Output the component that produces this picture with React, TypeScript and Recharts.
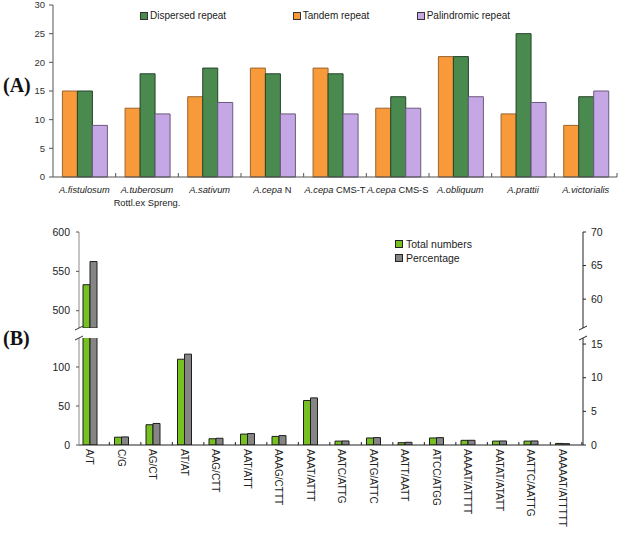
import React from 'react';
import { BarChart, Bar, XAxis, YAxis, Legend } from 'recharts';

// ---------- Panel A data ----------
const species = ['A.fistulosum', 'A.tuberosum', 'A.sativum', 'A.cepa', 'A.cepa', 'A.cepa', 'A.obliquum', 'A.prattii', 'A.victorialis'];
const speciesSuffix = ['', '', '', 'N', 'CMS-T', 'CMS-S', '', '', ''];
const speciesSecondLine = ['', 'Rottl.ex Spreng.', '', '', '', '', '', '', ''];
const tandemRepeat = [15, 12, 14, 19, 19, 12, 21, 11, 9];
const dispersedRepeat = [15, 18, 19, 18, 18, 14, 21, 25, 14];
const palindromicRepeat = [9, 11, 13, 11, 11, 12, 14, 13, 15];
const repeatTicks = [0, 5, 10, 15, 20, 25, 30];

// ---------- Panel B data ----------
const motifs = ['A/T', 'C/G', 'AG/CT', 'AT/AT', 'AAG/CTT', 'AAT/ATT', 'AAAG/CTTT', 'AAAT/ATTT', 'AATC/ATTG', 'AATG/ATTC', 'AATT/AATT', 'ATCC/ATGG', 'AAAAT/ATTTT', 'AATAT/ATATT', 'AATTC/AATTG', 'AAAAAT/ATTTTT'];
const totalNumbers = [533, 10, 26, 110, 8, 14, 11, 57, 5, 9, 3, 9, 6, 5, 5, 2];
const percentage = [65.6, 1.2, 3.2, 13.5, 1.0, 1.7, 1.4, 7.0, 0.6, 1.1, 0.4, 1.1, 0.7, 0.6, 0.6, 0.2];
const upperLeftTicks = [500, 550, 600];
const upperRightTicks = [60, 65, 70];
const lowerLeftTicks = [0, 50, 100];
const lowerRightTicks = [0, 5, 10, 15];

const UPPER_LEFT_DOMAIN = [478, 600];
const UPPER_RIGHT_DOMAIN = [55.7, 70];
const LOWER_LEFT_DOMAIN = [0, 137.2];
const LOWER_RIGHT_DOMAIN = [0, 15.9];

const FONT = '"Liberation Sans", Arial, Helvetica, sans-serif';

const dataA = species.map((s, i) => ({
  name: s + (speciesSuffix[i] ? ' ' + speciesSuffix[i] : '') + '#' + i,
  tandem: tandemRepeat[i],
  dispersed: dispersedRepeat[i],
  palindromic: palindromicRepeat[i],
}));

const dataB = motifs.map((m, i) => ({ motif: m, total: totalNumbers[i], pct: percentage[i] }));
const dataBUpper = motifs.map((m, i) => ({
  motif: m,
  total: totalNumbers[i] > UPPER_LEFT_DOMAIN[0] ? totalNumbers[i] : null,
  pct: percentage[i] > UPPER_RIGHT_DOMAIN[0] ? percentage[i] : null,
}));

const BAND_A = (617 - 53) / 9;

const SpeciesTick = (props: any) => {
  const { x, y, index } = props;
  const bx = x + BAND_A / 2;
  return (
    <g>
      <line x1={bx} x2={bx} y1={y} y2={y - 4} stroke="#555" strokeWidth={1} />
      <text x={x} y={y + 16} textAnchor="middle" fontSize={9.3} fill="#222" fontFamily={FONT}>
        <tspan fontStyle="italic">{species[index]}</tspan>
        {speciesSuffix[index] ? <tspan>{'\u00a0' + speciesSuffix[index]}</tspan> : null}
      </text>
      {speciesSecondLine[index] ? (
        <text x={x} y={y + 29} textAnchor="middle" fontSize={9.3} fill="#222" fontFamily={FONT}>
          {speciesSecondLine[index]}
        </text>
      ) : null}
    </g>
  );
};

const MotifTick = (props: any) => {
  const { x, y, payload } = props;
  const bx = x + 19.6;
  return (
    <g>
      <line x1={bx} x2={bx} y1={y} y2={y - 3} stroke="#222" strokeWidth={1} />
      <text
        x={x}
        y={y + 4}
        transform={`rotate(90, ${x}, ${y + 4})`}
        textAnchor="start"
        dominantBaseline="central"
        fontSize={10}
        fill="#222"
        fontFamily={FONT}
      >
        {payload.value}
      </text>
    </g>
  );
};

const legendOrderA = ['dispersed', 'tandem', 'palindromic'];
const legendWidthsA = [152.7, 124, 130];
const legendOrderB = ['total', 'pct'];

const LegendA = (props: any) => {
  const payload = props.payload || [];
  const items = legendOrderA.map((k) => payload.find((p: any) => p.dataKey === k)).filter(Boolean);
  return (
    <div style={{ display: 'flex', fontFamily: FONT, fontSize: 10, color: '#222', whiteSpace: 'nowrap' }}>
      {items.map((p: any, i: number) => (
        <div key={p.dataKey} style={{ width: legendWidthsA[i], display: 'flex', alignItems: 'center' }}>
          <span
            style={{
              display: 'inline-block',
              width: 6,
              height: 6,
              background: p.color,
              border: '1px solid #333',
              marginRight: 2,
            }}
          />
          <span>{p.value}</span>
        </div>
      ))}
    </div>
  );
};

const LegendB = (props: any) => {
  const payload = props.payload || [];
  const items = legendOrderB.map((k) => payload.find((p: any) => p.dataKey === k)).filter(Boolean);
  return (
    <div style={{ fontFamily: FONT, fontSize: 10.5, color: '#222', whiteSpace: 'nowrap' }}>
      {items.map((p: any) => (
        <div key={p.dataKey} style={{ display: 'flex', alignItems: 'center', height: 14 }}>
          <span
            style={{
              display: 'inline-block',
              width: 6,
              height: 6,
              background: p.color,
              border: '1px solid #222',
              marginRight: 3,
            }}
          />
          <span>{p.value}</span>
        </div>
      ))}
    </div>
  );
};

export default function App() {
  return (
    <div style={{ position: 'absolute', left: 0, top: 0, width: 619, height: 533, background: '#fff', fontFamily: FONT }}>
      {/* Panel A */}
      <div style={{ position: 'absolute', left: 0, top: 0 }}>
        <BarChart width={619} height={215} data={dataA} margin={{ top: 5, right: 2, left: 0, bottom: 0 }} barCategoryGap="15%" barGap={0}>
          <XAxis
            dataKey="name"
            interval={0}
            tick={<SpeciesTick />}
            tickLine={false}
            tickSize={0}
            tickMargin={0}
            height={38}
            axisLine={{ stroke: '#555' }}
          />
          <YAxis
            domain={[0, 30]}
            ticks={repeatTicks}
            interval={0}
            width={53}
            tickSize={4}
            tickMargin={4}
            tick={{ fontSize: 9.5, fill: '#333', fontFamily: FONT }}
            axisLine={{ stroke: '#555' }}
            tickLine={{ stroke: '#555' }}
          />
          <Legend
            layout="vertical"
            align="center"
            verticalAlign="middle"
            content={<LegendA />}
            wrapperStyle={{ left: 140, top: 10, width: 420, height: 14 }}
          />
          <Bar dataKey="tandem" name="Tandem repeat" fill="#F89A3A" stroke="#9A6430" strokeWidth={1} isAnimationActive={false} />
          <Bar dataKey="dispersed" name="Dispersed repeat" fill="#4A8A4F" stroke="#24442A" strokeWidth={1} isAnimationActive={false} />
          <Bar dataKey="palindromic" name="Palindromic repeat" fill="#C6A7E6" stroke="#6A5A7C" strokeWidth={1} isAnimationActive={false} />
        </BarChart>
      </div>

      {/* Panel B upper segment */}
      <div style={{ position: 'absolute', left: 0, top: 222 }}>
        <BarChart width={619} height={106} data={dataBUpper} margin={{ top: 10, right: 0, left: 0, bottom: 0 }} barSize={7} barGap={0}>
          <XAxis dataKey="motif" hide padding={{ left: -5, right: 5 }} />
          <YAxis
            yAxisId="left"
            domain={UPPER_LEFT_DOMAIN}
            ticks={upperLeftTicks}
            interval={0}
            allowDataOverflow
            width={79}
            tickSize={3}
            tickMargin={6}
            tick={{ fontSize: 10.5, fill: '#222', fontFamily: FONT }}
            axisLine={{ stroke: '#8a8a8a' }}
            tickLine={{ stroke: '#555' }}
          />
          <YAxis
            yAxisId="right"
            orientation="right"
            domain={UPPER_RIGHT_DOMAIN}
            ticks={upperRightTicks}
            interval={0}
            allowDataOverflow
            width={36}
            tickSize={3}
            tickMargin={5}
            tick={{ fontSize: 10.5, fill: '#222', fontFamily: FONT }}
            axisLine={{ stroke: '#222' }}
            tickLine={{ stroke: '#222' }}
          />
          <Legend
            layout="vertical"
            align="center"
            verticalAlign="middle"
            content={<LegendB />}
            wrapperStyle={{ left: 395, top: 15, width: 120, height: 30 }}
          />
          <Bar yAxisId="left" dataKey="total" name="Total numbers" fill="#76C022" stroke="#1e1e1e" strokeWidth={1} isAnimationActive={false} />
          <Bar yAxisId="right" dataKey="pct" name="Percentage" fill="#858585" stroke="#1e1e1e" strokeWidth={1} isAnimationActive={false} />
        </BarChart>
      </div>

      {/* Panel B lower segment */}
      <div style={{ position: 'absolute', left: 0, top: 330 }}>
        <BarChart width={619} height={203} data={dataB} margin={{ top: 8, right: 0, left: 0, bottom: 0 }} barSize={7} barGap={0}>
          <XAxis
            dataKey="motif"
            interval={0}
            padding={{ left: -5, right: 5 }}
            height={88}
            tick={<MotifTick />}
            tickLine={false}
            tickSize={0}
            tickMargin={0}
            axisLine={{ stroke: '#222' }}
          />
          <YAxis
            yAxisId="left"
            domain={LOWER_LEFT_DOMAIN}
            ticks={lowerLeftTicks}
            interval={0}
            allowDataOverflow
            width={79}
            tickSize={3}
            tickMargin={6}
            tick={{ fontSize: 10.5, fill: '#222', fontFamily: FONT }}
            axisLine={{ stroke: '#8a8a8a' }}
            tickLine={{ stroke: '#555' }}
          />
          <YAxis
            yAxisId="right"
            orientation="right"
            domain={LOWER_RIGHT_DOMAIN}
            ticks={lowerRightTicks}
            interval={0}
            allowDataOverflow
            width={36}
            tickSize={3}
            tickMargin={5}
            tick={{ fontSize: 10.5, fill: '#222', fontFamily: FONT }}
            axisLine={{ stroke: '#222' }}
            tickLine={{ stroke: '#222' }}
          />
          <Bar yAxisId="left" dataKey="total" name="Total numbers" fill="#76C022" stroke="#1e1e1e" strokeWidth={1} isAnimationActive={false} />
          <Bar yAxisId="right" dataKey="pct" name="Percentage" fill="#858585" stroke="#1e1e1e" strokeWidth={1} isAnimationActive={false} />
        </BarChart>
      </div>

      {/* Panel letters and axis-break marks */}
      <svg width={619} height={533} style={{ position: 'absolute', left: 0, top: 0, pointerEvents: 'none' }}>
        <text x={3} y={92} fontFamily='"Liberation Serif", "Times New Roman", serif' fontWeight="bold" fontSize={20} fill="#111">(A)</text>
        <text x={3} y={345} fontFamily='"Liberation Serif", "Times New Roman", serif' fontWeight="bold" fontSize={20} fill="#111">(B)</text>
        <line x1={75} y1={330} x2={83} y2={326} stroke="#333" strokeWidth={1} />
        <line x1={75} y1={340} x2={83} y2={336} stroke="#333" strokeWidth={1} />
        <line x1={579} y1={330} x2={587} y2={326} stroke="#222" strokeWidth={1} />
        <line x1={579} y1={340} x2={587} y2={336} stroke="#222" strokeWidth={1} />
      </svg>
    </div>
  );
}
